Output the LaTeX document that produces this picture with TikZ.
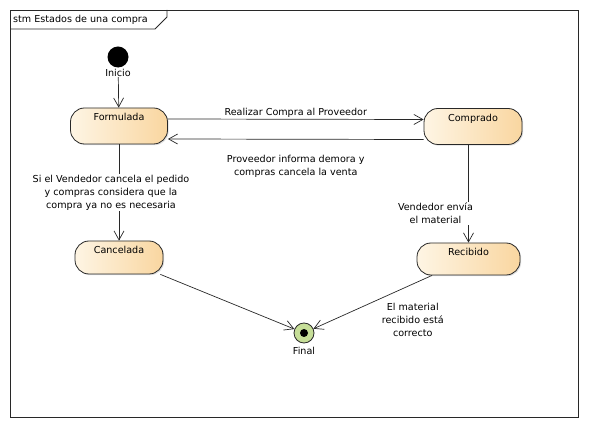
\documentclass[tikz,border=0pt]{standalone}
\usepackage{fontspec}
\setmainfont{DejaVu Sans}
\usetikzlibrary{arrows.meta, positioning, shadows}

\definecolor{stateL}{RGB}{254,245,228}
\definecolor{stateR}{RGB}{249,214,160}
\definecolor{finalG}{RGB}{198,222,152}
\definecolor{lineC}{RGB}{40,40,40}

\begin{document}
\begin{tikzpicture}[
    x=1pt, y=-1pt,
    font=\fontsize{9.6}{13}\selectfont,
    state/.style={draw=lineC, line width=0.8pt, rounded corners=14pt, left color=stateL, right color=stateR,
        drop shadow={shadow xshift=1.2pt, shadow yshift=-1.2pt, opacity=0.25},
        text height=10pt, inner ysep=3pt},
    trans/.style={draw=lineC, line width=0.7pt, -{Straight Barb[length=9pt, width=10pt]}},
    lbl/.style={align=center, inner sep=1pt}
]
  \useasboundingbox (0,0) rectangle (589,427);

  % Frame with its tab
  \draw[lineC, line width=0.8pt] (10,10) rectangle (578,417);
  \draw[lineC, line width=0.8pt] (10,29) -- (155,29) -- (167,17) -- (167,10);
  \node[anchor=west, inner sep=0pt] (frameTxt) at (13,20) {stm Estados de una compra};

  % States
  \node[circle, fill=black, minimum size=21pt, inner sep=0pt] (ini) at (118,57) {};
  \node[state, minimum width=97pt, text depth=20pt] (formulada) at (119,126) {Formulada};
  \node[state, minimum width=98pt, text depth=20pt] (comprado) at (473,126.5) {Comprado};
  \node[state, minimum width=88pt, text depth=17pt] (cancelada) at (119,257.5) {Cancelada};
  \node[state, minimum width=103pt, text depth=16pt] (recibido) at (468.5,259) {Recibido};
  \node[circle, draw=lineC, line width=0.8pt, fill=finalG, minimum size=20pt, inner sep=0pt,
        path picture={\fill[black] (path picture bounding box.center) circle (4pt);}] (final) at (304,333) {};

  % Transitions
  \draw[trans] (ini) -- (formulada);
  \draw[trans] ([yshift=7pt]formulada.east) -- node[lbl, above=0pt] (lblRealizar) {Realizar Compra al Proveedor} ([yshift=7pt]comprado.west);
  \draw[trans] ([yshift=-13pt]comprado.west) -- node[lbl, below=15pt] (lblDemora) {Proveedor informa demora y\\compras cancela la venta} ([yshift=-13pt]formulada.east);
  \draw[trans] (formulada) -- node[lbl, fill=white, xshift=-8pt] (lblCancela) {Si el Vendedor cancela el pedido\\y compras considera que la\\compra ya no es necesaria} (cancelada);
  \draw[trans] (comprado.south -| recibido.north) -- node[lbl, fill=white, pos=0.7, xshift=-33pt] (lblEnvia) {Vendedor envía\\el material} (recibido.north);
  \draw[trans] (cancelada) -- (final);
  \draw[trans] (recibido) -- node[lbl, midway, xshift=40pt, yshift=-18pt] (lblCorrecto) {El material\\recibido está\\correcto} (final);

  % Pseudo-state names
  \node[lbl, fill=white, below=0pt of ini] (iniTxt) {Inicio};
  \node[lbl, below=3pt of final] (finalTxt) {Final};

\end{tikzpicture}
\end{document}
